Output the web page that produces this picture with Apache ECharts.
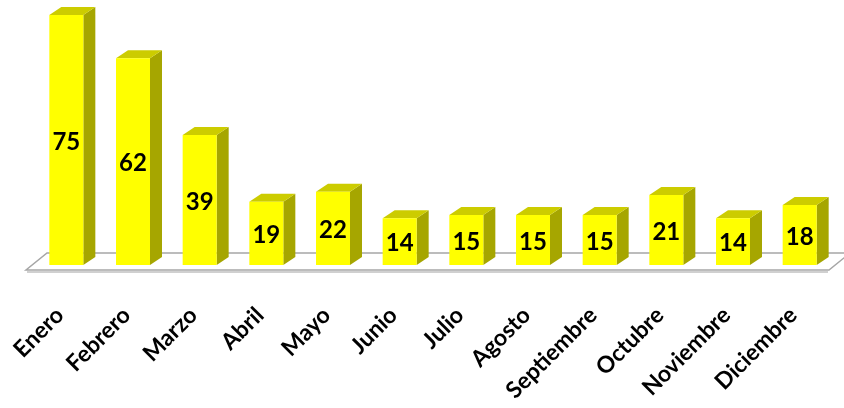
<!DOCTYPE html>
<html>
<head>
<meta charset="utf-8">
<script src="https://cdn.jsdelivr.net/npm/echarts@6/dist/echarts.min.js"></script>
<style>
html,body{margin:0;padding:0;background:#fff;}
#chart{width:844px;height:408px;}
</style>
</head>
<body>
<div id="chart"></div>
<script>
const categories = ['Enero','Febrero','Marzo','Abril','Mayo','Junio','Julio','Agosto','Septiembre','Octubre','Noviembre','Diciembre'];
const values = [75, 62, 39, 19, 22, 14, 15, 15, 15, 21, 14, 18];

const FRONT = '#FFFF00', TOP = '#CCCC00', SIDE = '#A6A600';

const chart = echarts.init(document.getElementById('chart'), null, {renderer: 'canvas'});

function renderBar(params, api) {
  const x = api.value(0), v = api.value(1);
  const top = api.coord([x, v]);
  const base = api.coord([x, 0]);
  const band = api.size([1, 0])[0];
  const w = band * 0.51;
  const dx = band * 0.18, dy = band * 0.12;
  const l = top[0] - w / 2, r = top[0] + w / 2;
  const t = top[1], b = base[1];
  return {
    type: 'group',
    children: [
      {type: 'polygon', shape: {points: [[r, t], [r + dx, t - dy], [r + dx, b - dy], [r, b]]}, style: {fill: SIDE}},
      {type: 'polygon', shape: {points: [[l, t], [l + dx, t - dy], [r + dx, t - dy], [r, t]]}, style: {fill: TOP}},
      {type: 'rect', shape: {x: l, y: t, width: w, height: b - t}, style: {fill: FRONT}},
      {type: 'text', style: {text: String(v), x: (l + r) / 2, y: (t + b) / 2 + 2, align: 'center', verticalAlign: 'middle', font: 'bold 24px Lato', fill: '#000'}}
    ]
  };
}

function renderFloor(params, api) {
  const n = categories.length;
  const a = api.coord([0, 0]);
  const c = api.coord([n - 1, 0]);
  const band = api.size([1, 0])[0];
  const s = a[0] - band / 2, e = c[0] + band / 2, y0 = a[1];
  const fy = y0 + 5, by = y0 - 12;
  return {
    type: 'group',
    children: [
      {type: 'polygon', shape: {points: [[s - 7, fy], [e - 4, fy], [e + 17, by], [s + 14, by]]},
        style: {fill: '#FFFFFF', stroke: '#A6A6A6', lineWidth: 1.5}},
      {type: 'line', shape: {x1: s - 6, y1: fy + 2, x2: e - 5, y2: fy + 2}, style: {stroke: '#D0D0D0', lineWidth: 2}}
    ]
  };
}

chart.setOption({
  animation: false,
  backgroundColor: '#FFFFFF',
  grid: {left: 33, right: 11, top: 5, bottom: 143},
  xAxis: {
    type: 'category',
    data: categories,
    axisLine: {show: false},
    axisTick: {show: false},
    splitLine: {show: false},
    axisLabel: {
      rotate: 45,
      interval: 0,
      margin: 40,
      padding: [0, 9, 0, 0],
      fontFamily: 'Lato',
      fontWeight: 'bold',
      fontSize: 23,
      color: '#000'
    }
  },
  yAxis: {
    type: 'value',
    min: 0,
    max: 78,
    show: false,
    splitLine: {show: false}
  },
  series: [
    {type: 'custom', renderItem: renderFloor, data: [[0]], z: 1, silent: true},
    {type: 'custom', renderItem: renderBar, data: values.map((v, i) => [i, v]), z: 2,
      encode: {x: 0, y: 1}}
  ]
});
</script>
</body>
</html>
